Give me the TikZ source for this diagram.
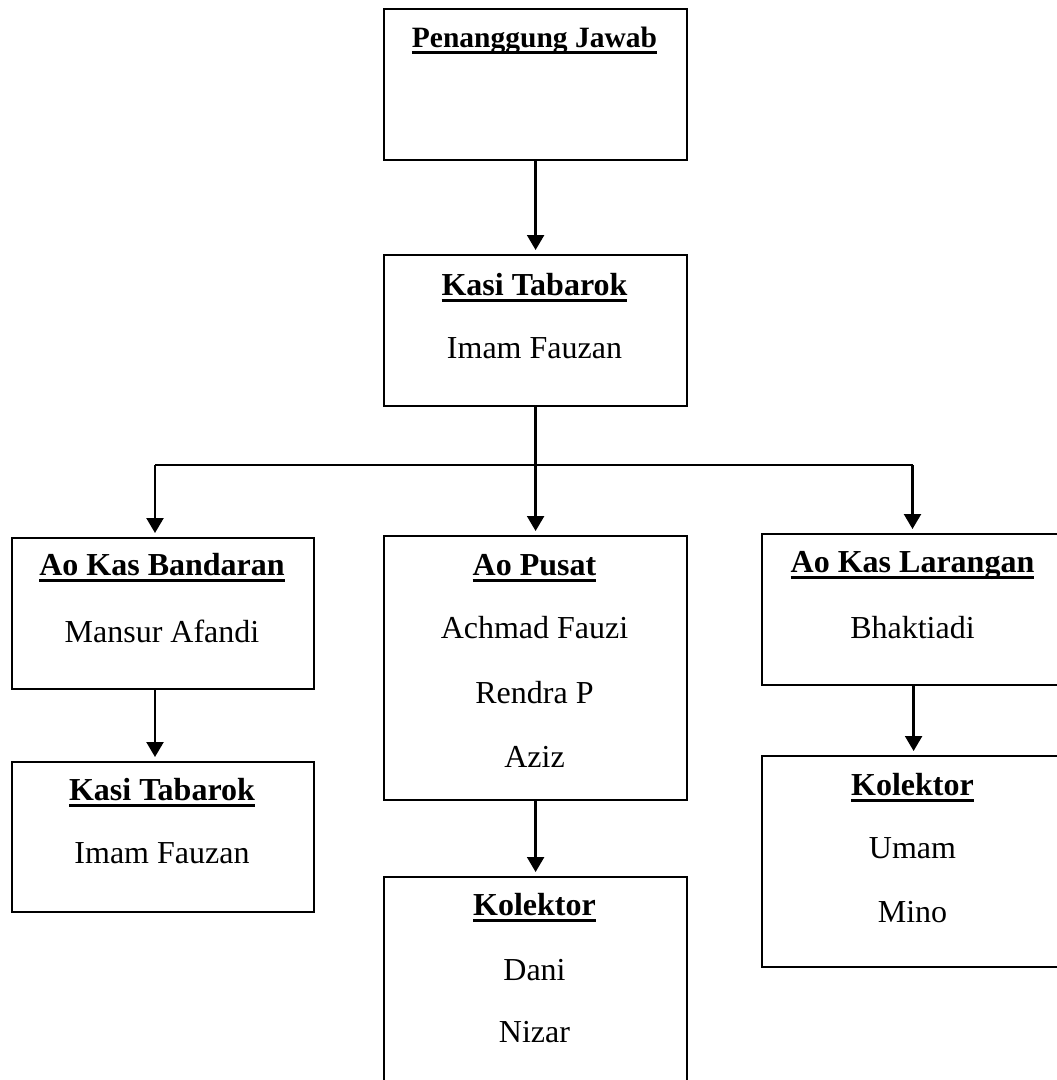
\documentclass[tikz,border=0pt]{standalone}
\usepackage{fontspec}
\setmainfont{Liberation Serif}
\usetikzlibrary{arrows.meta}
\newsavebox\ttlbox
\newcommand\ttl[1]{\sbox\ttlbox{\bfseries #1}\rlap{\rule[-7pt]{\wd\ttlbox}{2.6pt}}\usebox\ttlbox}
\begin{document}
\begin{tikzpicture}[x=1pt,y=-1pt,
  box/.style={draw, line width=2.2pt, anchor=north west, inner sep=0pt, minimum width=303pt},
  txt/.style={anchor=base, inner sep=0pt, font=\fontsize{32}{38}\selectfont},
  arr/.style={line width=2.3pt, -{Triangle[width=17pt,length=15pt]}, shorten >=4pt},
  ln/.style={line width=2.3pt}]
\useasboundingbox (0,0) rectangle (1057,1080);
\clip (0,0) rectangle (1057,1080);
% boxes
\node[box, minimum height=151pt] (pj) at (383,8) {};
\node[box, minimum height=151pt] (kt) at (383,254) {};
\node[box, minimum width=302pt, minimum height=151pt] (akb) at (11,537) {};
\node[box, minimum height=264pt] (ap) at (383,535) {};
\node[box, minimum height=151pt] (akl) at (761,533) {};
\node[box, minimum width=302pt, minimum height=150pt] (kt2) at (11,761) {};
\node[box, minimum height=260pt] (kol1) at (383,876) {};
\node[box, minimum height=211pt] (kol2) at (761,755) {};
% texts
\node[txt, font=\fontsize{29.5}{35}\selectfont] (pjt) at (534.5,47) {\ttl{Penanggung Jawab}};
\node[txt] (ktt) at (534.5,295) {\ttl{Kasi Tabarok}};
\node[txt] (ktn) at (534.5,358) {Imam Fauzan};
\node[txt] (akbt) at (162,575) {\ttl{Ao Kas Bandaran}};
\node[txt] (akbn) at (162,642) {Mansur Afandi};
\node[txt] (apt) at (534.5,575) {\ttl{Ao Pusat}};
\node[txt] (apn1) at (534.5,638) {Achmad Fauzi};
\node[txt] (apn2) at (534.5,703) {Rendra P};
\node[txt] (apn3) at (534.5,767) {Aziz};
\node[txt] (aklt) at (912.5,572) {\ttl{Ao Kas Larangan}};
\node[txt] (akln) at (912.5,638) {Bhaktiadi};
\node[txt] (kt2t) at (162,800) {\ttl{Kasi Tabarok}};
\node[txt] (kt2n) at (162,863) {Imam Fauzan};
\node[txt] (kol1t) at (534.5,915) {\ttl{Kolektor}};
\node[txt] (kol1n1) at (534.5,980) {Dani};
\node[txt] (kol1n2) at (534.5,1042) {Nizar};
\node[txt] (kol2t) at (912.5,795) {\ttl{Kolektor}};
\node[txt] (kol2n1) at (912.5,858) {Umam};
\node[txt] (kol2n2) at (912.5,922) {Mino};
% connectors
\coordinate (bl) at (155,465);
\coordinate (br) at (912.5,465);
\draw[arr] (pj.south) -- (kt.north);
\draw[arr] (kt.south) -- (ap.north);
\draw[ln] (bl) -- (br);
\draw[arr] (bl) -- (bl |- akb.north);
\draw[arr] (br) -- (br |- akl.north);
\draw[arr] (akb.south -| bl) -- (kt2.north -| bl);
\draw[arr] (ap.south) -- (kol1.north);
\draw[arr] (akl.south) -- (kol2.north);
\end{tikzpicture}
\end{document}
